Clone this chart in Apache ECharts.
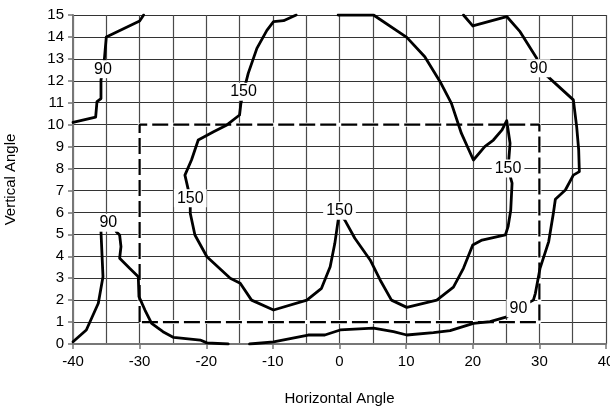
<!DOCTYPE html>
<html>
<head>
<meta charset="utf-8">
<script src="https://cdn.jsdelivr.net/npm/echarts@6/dist/echarts.min.js"></script>
<style>
html,body{margin:0;padding:0;background:#fff;}
#chart{width:610px;height:407px;}
</style>
</head>
<body>
<div id="chart"></div>
<script>
// Contour lines (horizontal angle, vertical angle)
const curve90UpperLeft = [[-40,10.1],[-36.6,10.34],[-36.4,11.05],[-35.8,11.19],[-35.8,12.04],[-35.3,12.95],[-35.0,14.0],[-30.0,14.73],[-29.4,15]];
const curve90LowerLeft = [[-40,0.1],[-38,0.64],[-36.2,1.86],[-35.5,3.07],[-35.8,5.12],[-35.6,5.5],[-33.9,5.5],[-33.5,5.12],[-33.0,4.97],[-32.8,4.44],[-33.0,3.91],[-31.5,3.45],[-30.2,3.07],[-30.1,2.16],[-29.2,1.55],[-28.2,0.94],[-26.5,0.56],[-24.9,0.3],[-20.9,0.18],[-19.9,0.05],[-16.7,0]];
const curve150 = [[-6.5,15],[-8.4,14.74],[-9.9,14.7],[-10.9,14.3],[-12.4,13.48],[-13.7,12.34],[-14.4,11.5],[-14.8,10.97],[-15.0,10.44],[-16.9,9.99],[-18.9,9.68],[-21.2,9.3],[-22.2,8.4],[-23.2,7.7],[-22.4,6.64],[-22.4,5.96],[-21.7,4.97],[-19.9,3.98],[-16.4,3.0],[-14.9,2.77],[-13.2,2.0],[-9.9,1.55],[-4.9,2.0],[-2.7,2.54],[-1.4,3.52],[-0.7,4.59],[-0.2,5.65],[0,6.0],[0.8,5.65],[2.3,4.82],[4.6,3.83],[6.1,2.92],[7.8,2.0],[10.1,1.67],[14.6,2.0],[17.1,2.59],[18.6,3.45],[20.0,4.51],[21.4,4.74],[24.9,4.97],[25.3,5.35],[25.7,6.1],[25.9,7.33],[25.3,8.0],[25.6,9.15],[25.1,10.18],[24.4,9.76],[23.1,9.3],[21.8,9.0],[20.1,8.39],[18.3,9.6],[16.8,10.97],[15.1,11.96],[12.8,13.1],[10.1,13.98],[5.1,15],[-0.2,15]];
const curve90Right = [[18.6,15],[20.0,14.5],[25.1,14.93],[27.1,14.24],[29.6,13.03],[29.85,12.57],[31.6,12.1],[35.1,11.13],[35.6,9.9],[35.9,8.85],[36.0,7.86],[35.1,7.7],[33.9,7.02],[32.4,6.6],[32.1,5.96],[31.4,4.67],[30.1,3.45],[29.4,2.31],[29.1,2.0],[26.85,1.63],[25.1,1.24],[22.6,1.02],[20.1,0.94],[16.6,0.61],[14.1,0.52],[10.1,0.41],[8.1,0.56],[5.1,0.72],[0.1,0.64],[-2.2,0.41],[-4.7,0.41],[-9.9,0.1],[-13.5,0]];
// Dashed boundary box
const boxCorners = [[-30,1],[-30,10],[30,10],[30,1],[-30,1]];
// Contour labels
const contourLabels = [[-35.5,12.53,'90'],[-34.7,5.53,'90'],[29.85,12.57,'90'],[26.85,1.63,'90'],[-14.4,11.5,'150'],[-22.4,6.64,'150'],[0,6.08,'150'],[25.3,8.0,'150']];

const FONT = 'Liberation Sans, Arial, Helvetica, sans-serif';
const chart = echarts.init(document.getElementById('chart'), null, {renderer:'canvas'});
function curve(data){
  return {type:'line', data:data, showSymbol:false, symbol:'none', smooth:false, z:3,
    lineStyle:{color:'#000', width:2.8, join:'round', cap:'round'}, silent:true};
}
chart.setOption({
  animation:false,
  backgroundColor:'#fff',
  grid:{left:73, right:4, top:15, bottom:63, containLabel:false, outerBoundsMode:'none'},
  xAxis:{
    type:'value', min:-40, max:40, interval:10,
    name:'Horizontal Angle', nameLocation:'middle', nameGap:47,
    nameTextStyle:{color:'#000', fontSize:15, fontFamily:FONT},
    axisLine:{show:true, onZero:false, lineStyle:{color:'#777', width:2}},
    axisTick:{show:true, length:5, lineStyle:{color:'#777', width:1.5}},
    minorTick:{show:true, splitNumber:2, length:0},
    axisLabel:{color:'#000', fontSize:15, fontFamily:FONT, margin:10},
    splitLine:{show:true, lineStyle:{color:'#4a4a4a', width:1.2}},
    minorSplitLine:{show:true, lineStyle:{color:'#4a4a4a', width:1.2}}
  },
  yAxis:{
    type:'value', min:0, max:15, interval:1,
    name:'Vertical Angle', nameLocation:'middle', nameGap:55,
    nameTextStyle:{color:'#000', fontSize:15, fontFamily:FONT},
    axisLine:{show:true, onZero:false, lineStyle:{color:'#777', width:2}},
    axisTick:{show:true, length:5, lineStyle:{color:'#777', width:1.5}},
    axisLabel:{color:'#000', fontSize:15, fontFamily:FONT, margin:9},
    splitLine:{show:true, lineStyle:{color:'#333', width:1}}
  },
  series:[
    {type:'line', data:boxCorners, symbol:'none', z:1, silent:true,
      lineStyle:{color:'#fff', width:4}},
    {type:'line', data:boxCorners, symbol:'none', z:2, silent:true,
      lineStyle:{color:'#000', width:2.2, type:[16,5]}},
    curve(curve90UpperLeft),
    curve(curve90LowerLeft),
    curve(curve150),
    curve(curve90Right),
    {type:'scatter', data:contourLabels, symbolSize:0, z:10, silent:true,
      itemStyle:{opacity:1},
      label:{show:true, position:'inside', formatter:function(p){return p.value[2];},
        color:'#000', opacity:1, fontSize:16, fontFamily:FONT, backgroundColor:'#fff', padding:[1,3]}}
  ]
});
</script>
</body>
</html>
